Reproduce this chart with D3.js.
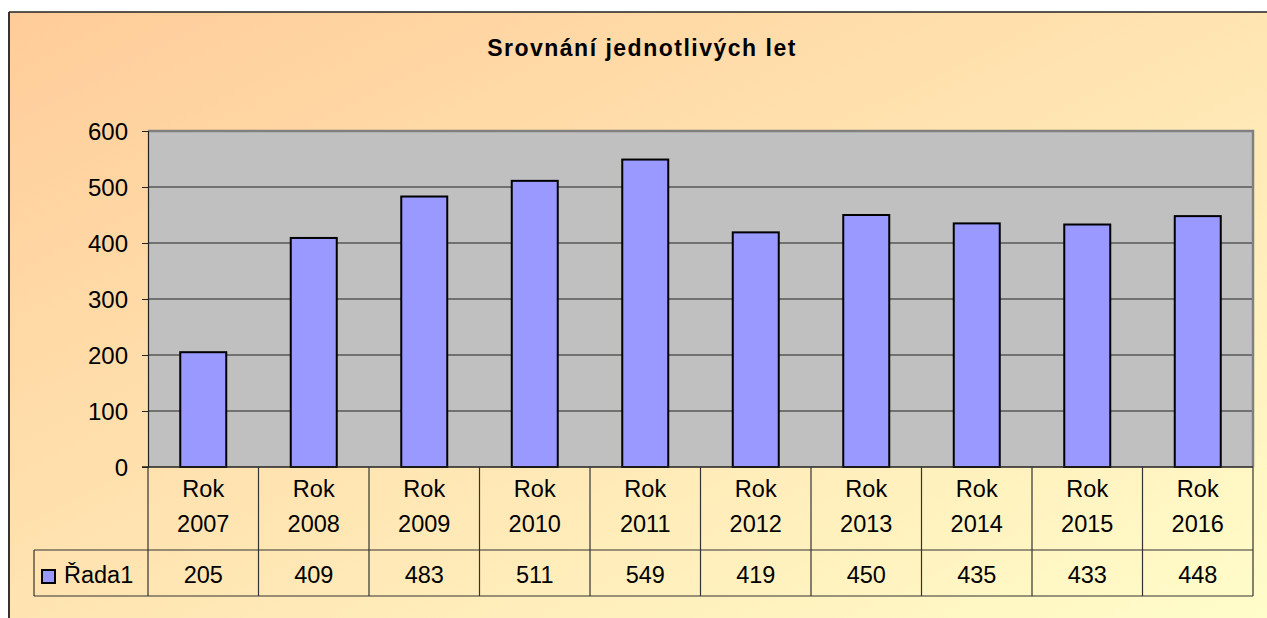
<!DOCTYPE html>
<html><head><meta charset="utf-8">
<script src="https://cdn.jsdelivr.net/npm/d3@7"></script>
<style>html,body{margin:0;padding:0;background:#fff;}svg{display:block;}</style>
</head><body>
<svg id="chart" width="1267" height="618"></svg>
<script>
const title = "Srovnání jednotlivých let";
const categories = ["Rok 2007","Rok 2008","Rok 2009","Rok 2010","Rok 2011","Rok 2012","Rok 2013","Rok 2014","Rok 2015","Rok 2016"];
const seriesName = "Řada1";
const values = [205, 409, 483, 511, 549, 419, 450, 435, 433, 448];
const yTicks = [0, 100, 200, 300, 400, 500, 600];

const svg = d3.select("#chart");
const font = "'Liberation Sans', Arial, sans-serif";

const defs = svg.append("defs");
const grad = defs.append("linearGradient").attr("id","bg")
  .attr("x1","0").attr("y1","0").attr("x2","1").attr("y2","1");
grad.append("stop").attr("offset","0").attr("stop-color","#FFCC99");
grad.append("stop").attr("offset","1").attr("stop-color","#FFFFCC");

// outer chart area
svg.append("rect").attr("x",9).attr("y",12).attr("width",1300).attr("height",640)
  .attr("fill","url(#bg)");
svg.append("line").attr("x1",9).attr("x2",1267).attr("y1",12).attr("y2",12).attr("stroke","#222").attr("stroke-width",1.5);
svg.append("line").attr("x1",9).attr("x2",9).attr("y1",12).attr("y2",618).attr("stroke","#333").attr("stroke-width",2);

svg.append("text").attr("x",642).attr("y",56).attr("text-anchor","middle")
  .attr("font-family",font).attr("font-weight","bold").attr("font-size",23)
  .attr("letter-spacing","1.5px").attr("fill","#000").text(title);

const L = 148, R = 1253, T = 131, B = 467;
const x = d3.scaleBand().domain(categories).range([L, R]).paddingInner(0).paddingOuter(0);
const y = d3.scaleLinear().domain([0, 600]).range([B, T]);

// plot area
svg.append("rect").attr("x",L).attr("y",T).attr("width",R-L).attr("height",B-T).attr("fill","#C0C0C0");
// gridlines
svg.append("g").selectAll("line").data(yTicks.filter(d=>d>0 && d<600)).join("line")
  .attr("x1",L).attr("x2",R).attr("y1",d=>y(d)).attr("y2",d=>y(d))
  .attr("stroke","#222").attr("stroke-width",1.2);
// border top/right
svg.append("path").attr("d",`M${L},${T}H${R}V${B}`).attr("fill","none").attr("stroke","#808080").attr("stroke-width",2.5);

// bars
const bw = 46;
svg.append("g").selectAll("rect").data(values).join("rect")
  .attr("x",(d,i)=>x(categories[i]) + x.bandwidth()/2 - bw/2)
  .attr("y",d=>y(d)).attr("width",bw).attr("height",d=>B - y(d))
  .attr("fill","#9999FF").attr("stroke","#000").attr("stroke-width",2);

// y axis
const yAxis = d3.axisLeft(y).tickValues(yTicks).tickSize(6).tickPadding(14);
const ga = svg.append("g").attr("transform",`translate(${L},0)`).call(yAxis);
ga.select(".domain").attr("stroke","#222").attr("stroke-width",1.2);
ga.selectAll(".tick line").attr("stroke","#222");
ga.selectAll(".tick text").attr("font-family",font).attr("font-size",24).attr("fill","#000").attr("dy","0.35em");

// bottom axis line
svg.append("line").attr("x1",L-6).attr("x2",R).attr("y1",B).attr("y2",B).attr("stroke","#222").attr("stroke-width",1.5);

// data table
const tb = 550, te = 596, lx = 34;
const tg = svg.append("g").attr("stroke","#333").attr("stroke-width",1.2);
tg.selectAll("line.v").data(categories).join("line").attr("class","v")
  .attr("x1",d=>x(d)).attr("x2",d=>x(d)).attr("y1",B).attr("y2",te);
tg.append("line").attr("x1",R).attr("x2",R).attr("y1",B).attr("y2",te);
tg.append("line").attr("x1",lx).attr("x2",R).attr("y1",tb).attr("y2",tb);
tg.append("line").attr("x1",lx).attr("x2",R).attr("y1",te).attr("y2",te);
tg.append("line").attr("x1",lx).attr("x2",lx).attr("y1",tb).attr("y2",te);

const cat = svg.append("g").attr("font-family",font).attr("font-size",23.5).attr("text-anchor","middle").attr("fill","#000");
categories.forEach(c => {
  const parts = c.split(" ");
  cat.append("text").attr("x",x(c)+x.bandwidth()/2).attr("y",497).text(parts[0]);
  cat.append("text").attr("x",x(c)+x.bandwidth()/2).attr("y",532).text(parts[1]);
});
svg.append("g").selectAll("text").data(values).join("text")
  .attr("x",(d,i)=>x(categories[i])+x.bandwidth()/2).attr("y",583)
  .attr("text-anchor","middle").attr("font-family",font).attr("font-size",23.5).attr("fill","#000")
  .text(d=>d);

// legend
svg.append("rect").attr("x",42).attr("y",570).attr("width",13).attr("height",13)
  .attr("fill","#9999FF").attr("stroke","#000").attr("stroke-width",2);
svg.append("text").attr("x",64).attr("y",583).attr("font-family",font).attr("font-size",23.5).attr("fill","#000").text(seriesName);
</script>
</body></html>
